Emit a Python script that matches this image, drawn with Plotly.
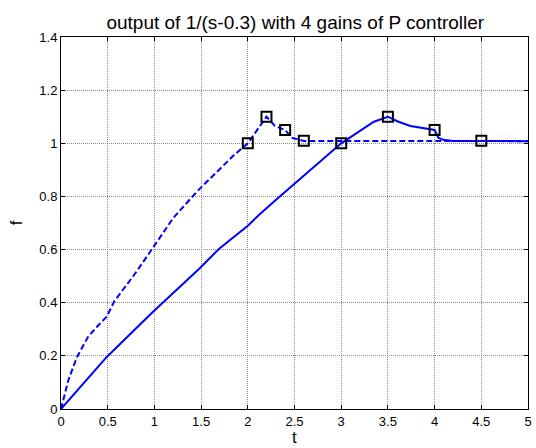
import plotly.graph_objects as go

# dashed response (higher gain)
t_dash = [0, 0.03, 0.08, 0.17, 0.29, 0.4, 0.49, 0.57, 0.79, 1.0, 1.2, 1.46, 1.72, 1.85, 2.0, 2.09, 2.2, 2.29, 2.4, 2.47, 2.6, 5.0]
f_dash = [0, 0.04, 0.11, 0.195, 0.272, 0.315, 0.348, 0.405, 0.508, 0.615, 0.718, 0.82, 0.908, 0.955, 1.0, 1.046, 1.1, 1.065, 1.05, 1.021, 1.009, 1.008]

# solid response (lower gain)
t_solid = [0, 0.49, 0.98, 1.48, 1.69, 2.0, 2.11, 2.29, 3.0, 3.2, 3.35, 3.5, 3.6, 3.74, 3.88, 4.0, 4.04, 4.09, 4.2, 5.0]
f_solid = [0, 0.196, 0.364, 0.528, 0.602, 0.69, 0.727, 0.784, 1.0, 1.046, 1.081, 1.1, 1.083, 1.065, 1.056, 1.05, 1.021, 1.013, 1.009, 1.008]

# square markers
t_mark_dash = [2.0, 2.2, 2.4, 2.6]
f_mark_dash = [1.0, 1.1, 1.05, 1.01]
t_mark_solid = [3.0, 3.5, 4.0, 4.5]
f_mark_solid = [1.0, 1.1, 1.05, 1.01]

x_ticks = [0, 0.5, 1, 1.5, 2, 2.5, 3, 3.5, 4, 4.5, 5]
y_ticks = [0, 0.2, 0.4, 0.6, 0.8, 1, 1.2, 1.4]

fig = go.Figure()
fig.add_trace(go.Scatter(x=t_dash, y=f_dash, mode="lines",
                         line=dict(color="#0000ff", width=2, dash="6px,3px")))
fig.add_trace(go.Scatter(x=t_solid, y=f_solid, mode="lines",
                         line=dict(color="#0000ff", width=2)))
fig.add_trace(go.Scatter(x=t_mark_dash + t_mark_solid, y=f_mark_dash + f_mark_solid, mode="markers",
                         marker=dict(symbol="square-open", size=10, color="black", line=dict(width=2, color="black"))))

axis_common = dict(showline=True, linecolor="black", linewidth=1, mirror="ticks",
                   ticks="inside", ticklen=4, tickcolor="black",
                   showgrid=True, gridcolor="#8a8a8a", griddash="1px,1px", gridwidth=1,
                   zeroline=False, tickfont=dict(family="Liberation Sans, Arial", size=13, color="black"))

fig.update_layout(
    width=536, height=448,
    margin=dict(l=61, r=4, t=37, b=39),
    paper_bgcolor="white", plot_bgcolor="white",
    showlegend=False,
    font=dict(family="Liberation Sans, Arial", color="black"),
    title=dict(text="output of 1/(s-0.3) with 4 gains of P controller", x=0.551, xanchor="center",
               y=0.949, yanchor="middle", font=dict(size=19, color="black")),
    xaxis=dict(range=[0, 5], tickvals=x_ticks, ticktext=[("%g" % v) for v in x_ticks], **axis_common),
    yaxis=dict(range=[0, 1.4], tickvals=y_ticks, ticktext=[("%g" % v) for v in y_ticks],
               title=dict(text="f", font=dict(size=17), standoff=12), **axis_common),
    annotations=[dict(text="t", xref="paper", yref="paper", x=0.5, y=-0.107,
                      xanchor="center", yanchor="bottom", showarrow=False,
                      font=dict(size=17, color="black"))],
)

fig.write_html("out.html", config={"displayModeBar": False},
               post_script="document.body.style.margin='0';document.body.style.padding='0';document.body.style.overflow='hidden';")
